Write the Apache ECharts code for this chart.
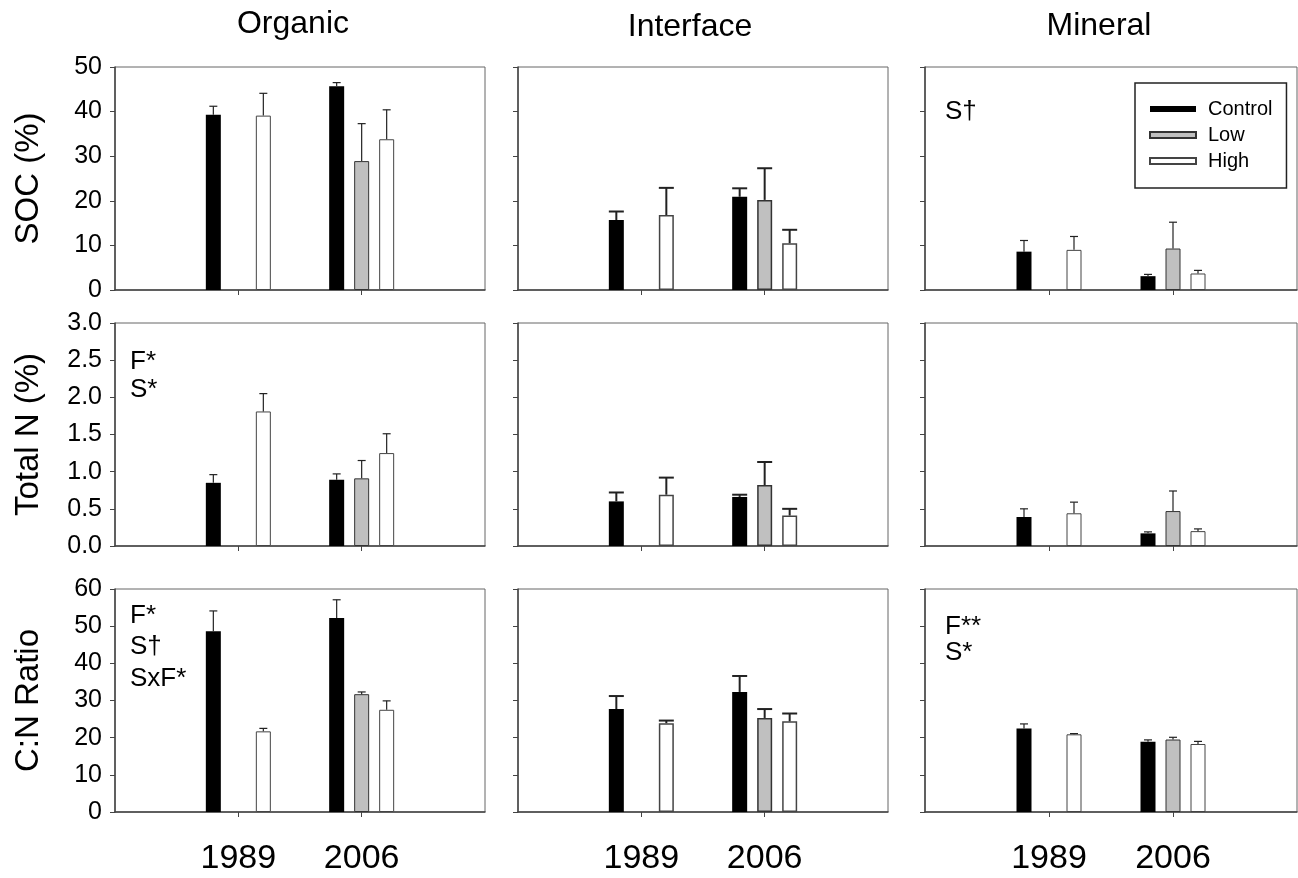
<!DOCTYPE html>
<html>
<head>
<meta charset="utf-8">
<script src="https://cdn.jsdelivr.net/npm/echarts@6/dist/echarts.min.js"></script>
<style>
  html, body { margin: 0; padding: 0; background: #fff; }
  #main { width: 1298px; height: 878px; }
</style>
</head>
<body>
<div id="main"></div>
<script>
// categories (padded with empty slots so the two years sit at 1/3 and 2/3)
const years = ["1989", "2006"];
const treatments = ["Control", "Low", "High"];
const depths = ["Organic", "Interface", "Mineral"];

// values ordered: 1989 Control, Low, High, 2006 Control, Low, High
const socOrganic = [39.3, null, 39.1, 45.7, 28.9, 33.8];
const socOrganicErr = [1.9, null, 5.0, 0.8, 8.4, 6.6];
const socInterface = [15.7, null, 16.8, 20.9, 20.2, 10.5];
const socInterfaceErr = [1.9, null, 6.1, 1.9, 7.1, 3.0];
const socMineral = [8.6, null, 9.0, 3.1, 9.3, 3.7];
const socMineralErr = [2.5, null, 3.0, 0.4, 5.9, 0.7];

const nOrganic = [0.85, null, 1.81, 0.89, 0.91, 1.25];
const nOrganicErr = [0.11, null, 0.24, 0.08, 0.24, 0.26];
const nInterface = [0.60, null, 0.69, 0.66, 0.82, 0.41];
const nInterfaceErr = [0.12, null, 0.23, 0.03, 0.31, 0.09];
const nMineral = [0.39, null, 0.44, 0.17, 0.47, 0.20];
const nMineralErr = [0.11, null, 0.15, 0.02, 0.27, 0.03];

const cnOrganic = [48.6, null, 21.7, 52.2, 31.7, 27.5];
const cnOrganicErr = [5.5, null, 0.8, 4.9, 0.6, 2.4];
const cnInterface = [27.7, null, 23.9, 32.3, 25.3, 24.4];
const cnInterfaceErr = [3.5, null, 0.7, 4.3, 2.4, 2.1];
const cnMineral = [22.5, null, 20.9, 18.9, 19.5, 18.3];
const cnMineralErr = [1.2, null, 0.2, 0.5, 0.6, 0.7];

const yNames = ["SOC (%)", "Total N (%)", "C:N Ratio"];
const yMax = [50, 3, 60];
const yStep = [10, 0.5, 10];

const means = [
  [socOrganic, socInterface, socMineral],
  [nOrganic, nInterface, nMineral],
  [cnOrganic, cnInterface, cnMineral],
];
const errs = [
  [socOrganicErr, socInterfaceErr, socMineralErr],
  [nOrganicErr, nInterfaceErr, nMineralErr],
  [cnOrganicErr, cnInterfaceErr, cnMineralErr],
];

var chartInstance = echarts.init(document.getElementById("main"));
const font = "Liberation Sans, Arial, sans-serif";
const cats = [""].concat(years).concat([""]);

const gridLeft = [115, 518, 925];
const gridWidth = [370, 370, 372];
const gridTop = [67, 323, 589];
const gridHeight = 223;

const barColors = ["#000000", "#c0c0c0", "#ffffff"];
const barBorders = ["#000000", "#333333", "#444444"];
// error bar look differs slightly per column in the original
const errWidth = [1.2, 2, 1.2];
const capWidth = [8, 15, 8];
const barW = 15;
const barGapPx = 10;

var grids = [], xAxes = [], yAxes = [], series = [];

for (let r = 0; r < 3; r++) {
  for (let c = 0; c < 3; c++) {
    const idx = r * 3 + c;
    grids.push({
      left: gridLeft[c],
      top: gridTop[r],
      width: gridWidth[c],
      height: gridHeight,
      show: true,
      borderColor: "#666",
      borderWidth: 1,
      backgroundColor: "transparent",
      containLabel: false,
      outerBoundsMode: "none",
    });
    xAxes.push({
      type: "category",
      gridIndex: idx,
      data: cats,
      boundaryGap: false,
      axisLine: { show: true, lineStyle: { color: "#444", width: 1.5 } },
      axisTick: {
        show: true,
        length: 5,
        interval: function (i) { return i === 1 || i === 2; },
        lineStyle: { color: "#444" },
      },
      axisLabel: {
        show: r === 2,
        interval: 0,
        fontSize: 34,
        fontFamily: font,
        color: "#000",
        margin: 30,
      },
      splitLine: { show: false },
    });
    yAxes.push({
      type: "value",
      gridIndex: idx,
      min: 0,
      max: yMax[r],
      interval: yStep[r],
      name: c === 0 ? yNames[r] : "",
      nameLocation: "middle",
      nameGap: 70,
      nameTextStyle: { fontSize: 33, fontFamily: font, color: "#000" },
      axisLine: { show: true, lineStyle: { color: "#444", width: 1.5 } },
      axisTick: { show: true, length: 5, lineStyle: { color: "#444" } },
      axisLabel: {
        show: c === 0,
        fontSize: 25,
        fontFamily: font,
        color: "#000",
        margin: 13,
        formatter: function (v) { return r === 1 ? v.toFixed(1) : String(v); },
      },
      splitLine: { show: false },
    });

    const m = means[r][c];
    const e = errs[r][c];
    treatments.forEach(function (name, k) {
      series.push({
        name: name,
        type: "bar",
        xAxisIndex: idx,
        yAxisIndex: idx,
        barWidth: barW,
        barGap: (barGapPx / barW) * 100 + "%",
        itemStyle: {
          color: barColors[k],
          borderColor: barBorders[k],
          borderWidth: k === 0 ? 0 : (c === 1 ? 1.5 : 1),
        },
        data: ["-", m[k] === null ? "-" : m[k], m[3 + k] === null ? "-" : m[3 + k], "-"],
        emphasis: { disabled: true },
        z: 2,
      });
    });

    // error bars: [category index, mean, +error, treatment index]
    const errData = [];
    for (let y = 0; y < 2; y++) {
      for (let k = 0; k < 3; k++) {
        if (m[y * 3 + k] !== null) errData.push([y + 1, m[y * 3 + k], e[y * 3 + k], k]);
      }
    }
    series.push({
      type: "custom",
      xAxisIndex: idx,
      yAxisIndex: idx,
      data: errData,
      silent: true,
      z: 3,
      renderItem: function (params, api) {
        const base = api.coord([api.value(0), api.value(1)]);
        const top = api.coord([api.value(0), api.value(1) + api.value(2)]);
        const x = base[0] + (api.value(3) - 1) * (barW + barGapPx);
        const st = { stroke: "#222", lineWidth: errWidth[c] };
        return {
          type: "group",
          children: [
            { type: "line", shape: { x1: x, y1: base[1], x2: x, y2: top[1] }, style: st },
            { type: "line", shape: { x1: x - capWidth[c] / 2, y1: top[1], x2: x + capWidth[c] / 2, y2: top[1] }, style: st },
          ],
        };
      },
    });
  }
}

function label(text, x, y, size, align) {
  return {
    type: "text",
    x: x,
    y: y,
    style: {
      text: text,
      font: size + "px " + font,
      fill: "#000",
      textAlign: align,
      textVerticalAlign: "middle",
      align: align,
      verticalAlign: "middle",
    },
  };
}

var graphics = [
  label(depths[0], 293, 24, 32, "center"),
  label(depths[1], 690, 27, 32, "center"),
  label(depths[2], 1099, 26, 32, "center"),
  // significance notes
  label("S\u2020", 945, 112, 26, "left"),
  label("F*", 130, 362, 26, "left"),
  label("S*", 130, 390, 26, "left"),
  label("F*", 130, 616, 26, "left"),
  label("S\u2020", 130, 647, 26, "left"),
  label("SxF*", 130, 679, 26, "left"),
  label("F**", 945, 627, 26, "left"),
  label("S*", 945, 653, 26, "left"),
];

var option = {
  animation: false,
  backgroundColor: "#fff",
  textStyle: { fontFamily: font },
  grid: grids,
  xAxis: xAxes,
  yAxis: yAxes,
  legend: {
    data: treatments,
    orient: "vertical",
    left: 1135,
    top: 83,
    padding: [16, 14, 17, 14],
    itemWidth: 46,
    itemHeight: 6,
    itemGap: 6,
    icon: "rect",
    borderColor: "#222",
    borderWidth: 1.5,
    selectedMode: false,
    textStyle: { fontSize: 20, fontFamily: font, color: "#000", padding: [0, 0, 0, 7] },
  },
  graphic: graphics,
  series: series,
};
chartInstance.setOption(option);
</script>
</body>
</html>
